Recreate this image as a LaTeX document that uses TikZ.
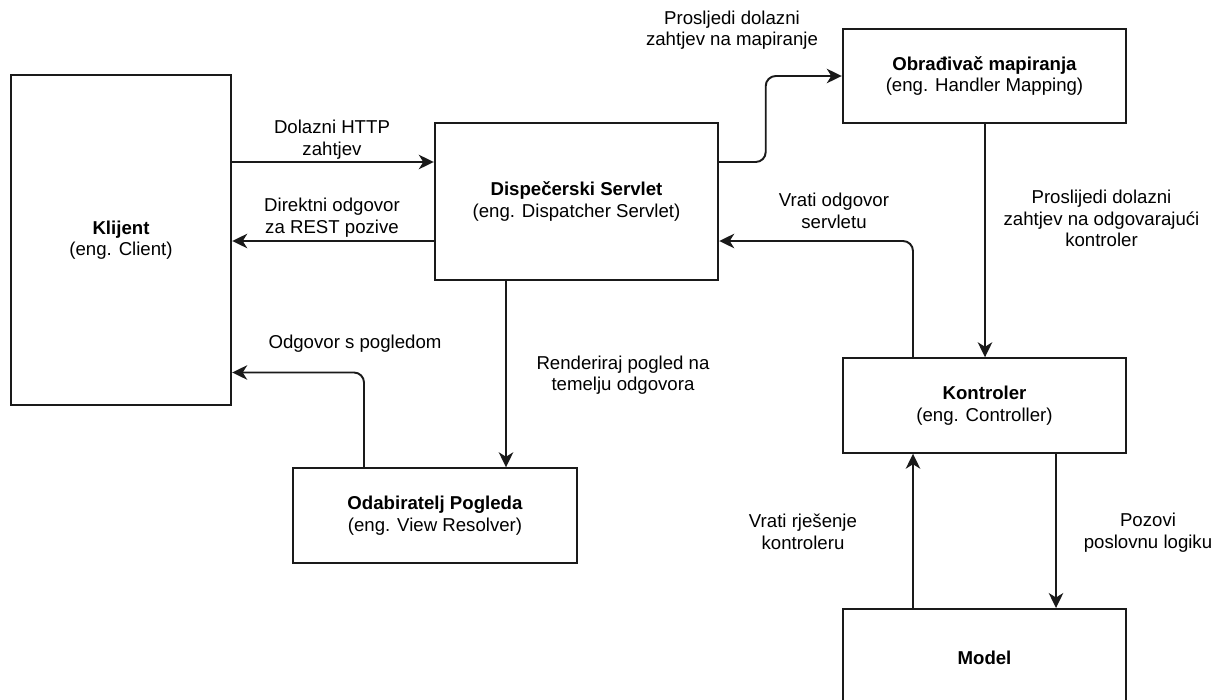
\documentclass[tikz,border=0pt]{standalone}
\usepackage{fontspec}
\setmainfont{Liberation Sans}
\usetikzlibrary{arrows.meta,positioning,calc}
\definecolor{lineblk}{HTML}{1A1A1A}

\begin{document}
\begin{tikzpicture}[font=\fontsize{10.6}{12.2}\selectfont,>={Stealth[length=3mm,width=2.9mm,inset=0.9mm]},
  comp/.style={draw=lineblk,line width=1.1pt,fill=white,minimum width=5.67cm,minimum height=1.89cm,
               align=center,inner sep=2pt},
  lab/.style={align=center,inner sep=1pt},
  conn/.style={->,lineblk,line width=1.1pt,rounded corners=0.2cm}]

\useasboundingbox (0,0) rectangle (24.44,-14);

% ===== components =====
\node[comp,minimum width=4.41cm,minimum height=6.6cm] (kl) at (2.42,-4.8) {\textbf{Klijent}\\(eng. Client)};
\node[comp,minimum height=3.14cm] (ds) at (11.53,-4.03) {\textbf{Dispečerski Servlet}\\(eng. Dispatcher Servlet)};
\node[comp] (map) at (19.69,-1.52) {\textbf{Obrađivač mapiranja}\\(eng. Handler Mapping)};
\node[comp] (ktr) at (19.69,-8.11) {\textbf{Kontroler}\\(eng. Controller)};
\node[comp] (odb) at (8.70,-10.31) {\textbf{Odabiratelj Pogleda}\\(eng. View Resolver)};
\node[comp,minimum height=1.96cm] (mdl) at (19.69,-13.16) {\textbf{Model}};

% ===== client <-> dispatcher =====
\draw[conn] ([yshift=0.79cm]ds.west -| kl.east) -- ([yshift=0.79cm]ds.west);
\node[lab] (l1) at (6.64,-2.79) {Dolazni HTTP\\zahtjev};
\draw[conn] ([yshift=-0.79cm]ds.west) -- ([yshift=-0.79cm]ds.west -| kl.east);
\node[lab] (l2) at (6.64,-4.35) {Direktni odgovor\\za REST pozive};

% ===== dispatcher -> handler mapping -> controller =====
\draw[conn] ([yshift=0.79cm]ds.east) -- ++(0.93,0) |- (map.west);
\node[lab] (l3) at (14.64,-0.6) {Prosljedi dolazni\\zahtjev na mapiranje};
\draw[conn] ([xshift=0.01cm]map.south) -- ([xshift=0.01cm]ktr.north);
\node[lab] (l4) at (22.03,-4.37) {Proslijedi dolazni\\zahtjev na odgovarajući\\kontroler};
\draw[conn] ([xshift=-1.43cm]ktr.north) |- ([yshift=-0.79cm]ds.east);
\node[lab] (l5) at (16.68,-4.22) {Vrati odgovor\\servletu};

% ===== view resolver =====
\draw[conn] ([xshift=1.42cm]odb.north |- ds.south) -- ([xshift=1.42cm]odb.north);
\node[lab] (l6) at (12.46,-7.5) {Renderiraj pogled na\\temelju odgovora};
\draw[conn] ([xshift=-1.42cm]odb.north) |- ([yshift=-2.65cm]kl.east);
\node[lab] (l7) at (7.1,-6.88) {Odgovor s pogledom};

% ===== controller <-> model =====
\draw[conn] ([xshift=1.43cm]ktr.south) -- ([xshift=1.43cm]mdl.north);
\node[lab] (l8) at (22.96,-10.65) {Pozovi\\poslovnu logiku};
\draw[conn] ([xshift=-1.43cm]mdl.north) -- ([xshift=-1.43cm]ktr.south);
\node[lab] (l9) at (16.06,-10.64) {Vrati rješenje\\kontroleru};

\end{tikzpicture}
\end{document}
